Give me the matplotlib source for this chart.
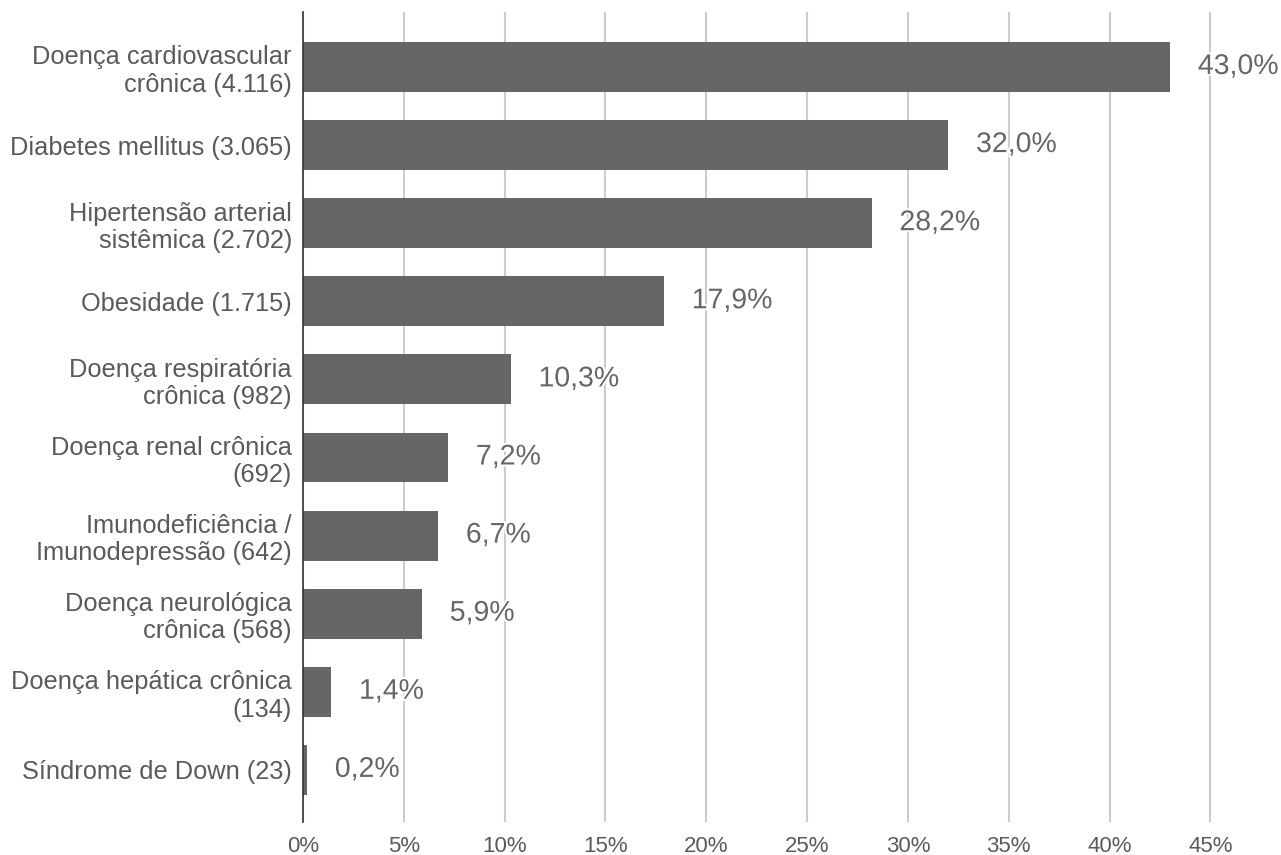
import matplotlib.pyplot as plt
import matplotlib.patheffects as pe

plt.rcParams['font.family'] = ['Liberation Sans', 'DejaVu Sans']

categories = [
    "Doença cardiovascular\ncrônica (4.116)",
    "Diabetes mellitus (3.065)",
    "Hipertensão arterial\nsistêmica (2.702)",
    "Obesidade (1.715)",
    "Doença respiratória\ncrônica (982)",
    "Doença renal crônica\n(692)",
    "Imunodeficiência /\nImunodepressão (642)",
    "Doença neurológica\ncrônica (568)",
    "Doença hepática crônica\n(134)",
    "Síndrome de Down (23)",
]
values = [43.0, 32.0, 28.2, 17.9, 10.3, 7.2, 6.7, 5.9, 1.4, 0.2]
xticks = [0, 5, 10, 15, 20, 25, 30, 35, 40, 45]

fig = plt.figure(figsize=(12.81, 8.55), dpi=100)
ax = fig.add_axes([303 / 1281, 33 / 855, 1 - 303 / 1281, 810 / 855])

ypos = list(range(len(categories)))
ax.barh(ypos, values, height=0.64, color='#666666', zorder=3)

for y, v in zip(ypos, values):
    ax.annotate(f"{v:.1f}%".replace('.', ','), (v, y), xytext=(20, 0),
                textcoords='offset points', va='center', ha='left',
                fontsize=20.5, color='#666666', zorder=4,
                path_effects=[pe.withStroke(linewidth=3, foreground='white')])

ax.set_ylim(9.667, -0.704)
ax.set_xlim(0, 48.5)
ax.set_yticks(ypos)
ax.set_yticklabels(categories, fontsize=18.3, color='#5a5a5a', linespacing=1.17)
ax.set_xticks(xticks)
ax.set_xticklabels([f"{t}%" for t in xticks], fontsize=16, color='#5a5a5a')
ax.tick_params(length=0, pad=8)
ax.tick_params(axis='x', pad=10)

ax.grid(axis='x', color='#cccccc', linewidth=1.5, zorder=0)
for s in ['top', 'right', 'bottom']:
    ax.spines[s].set_visible(False)
ax.spines['left'].set_color('#333333')
ax.spines['left'].set_linewidth(1.2)
ax.spines['left'].set_zorder(5)

fig.savefig('out.png', dpi=100)
